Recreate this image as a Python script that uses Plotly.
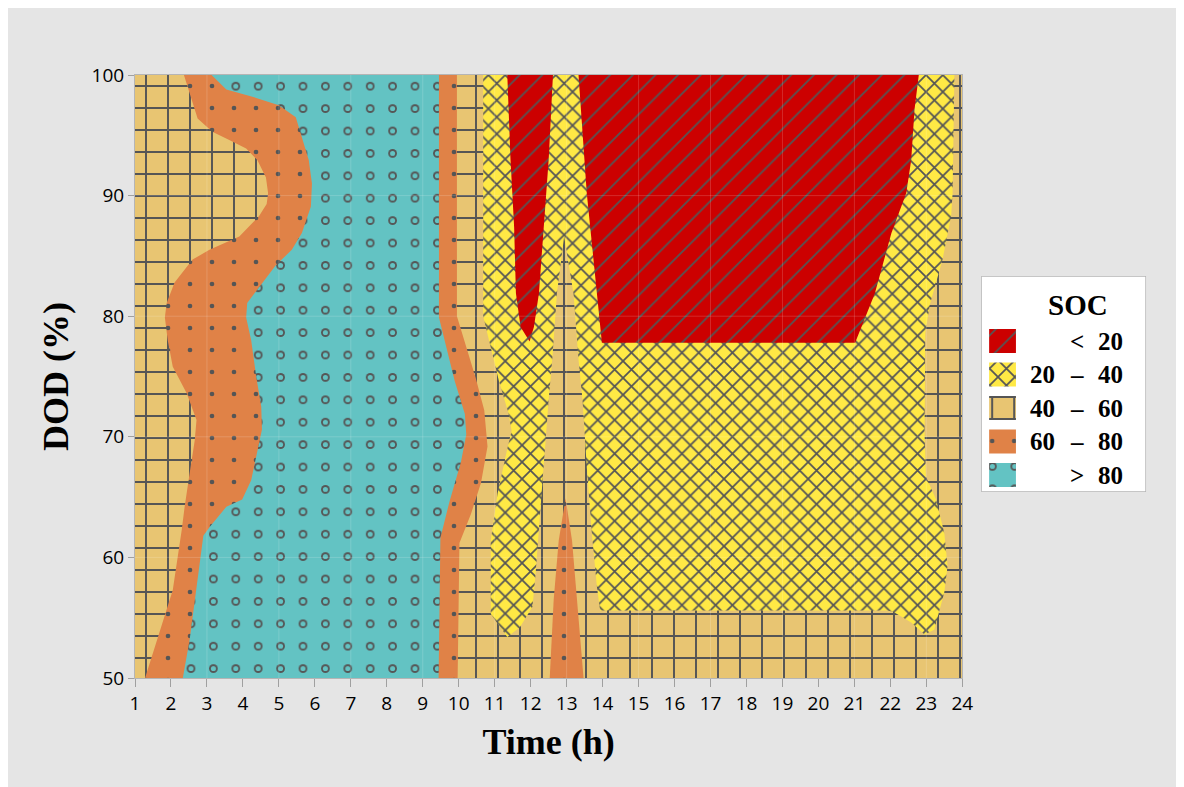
import plotly.graph_objects as go

# ---- data: contour region boundaries (Time h, DOD %) ----
x_range = [1, 24]
y_range = [50, 100]
x_ticks = list(range(1, 25))
y_ticks = [50, 60, 70, 80, 90, 100]

# 40-60 background region (whole domain)
bg_x = [1, 24, 24, 1]
bg_y = [50, 50, 100, 100]

# 60-80 region (left band + right band, teal drawn on top)
or_x = [2.36, 9.95, 9.95, 10.16, 10.47, 10.71, 10.80, 10.62, 10.34, 10.02, 9.97,
        1.28, 2.05, 2.30, 2.38, 2.52, 2.66, 2.71, 2.44, 2.05, 1.91, 1.83, 1.88, 2.10,
        2.60, 3.07, 3.90, 4.45, 4.66, 4.70, 4.64, 4.40, 4.09, 3.62, 3.15, 2.74, 2.60]
or_y = [100, 100, 80.0, 77.9, 74.9, 72.2, 69.2, 66.2, 63.6, 61.2, 50,
        50, 57.3, 62.3, 64.2, 67.0, 69.7, 71.4, 73.6, 75.8, 78.0, 79.9, 81.1, 82.8,
        84.7, 85.5, 86.6, 88.3, 89.3, 90.2, 91.5, 92.95, 93.9, 94.6, 95.3, 96.4, 97.7]

# >80 region
tl_x = [3.13, 9.45, 9.45, 9.61, 9.89, 10.17, 10.21, 10.06, 9.74, 9.49, 9.44,
        2.33, 2.52, 2.90, 3.07, 3.54, 3.98, 4.23, 4.40, 4.53, 4.51, 4.37, 4.23, 4.09,
        4.12, 4.54, 4.92, 5.36, 5.64, 5.89, 5.92, 5.83, 5.64, 5.47, 5.00, 4.37, 3.54]
tl_y = [100, 100, 79.9, 77.9, 74.6, 71.9, 70.2, 67.9, 64.6, 61.6, 50,
        50, 53.2, 61.8, 62.5, 64.2, 64.8, 66.4, 68.7, 70.6, 72.5, 75.0, 78.0, 79.9,
        81.1, 82.75, 84.25, 85.5, 86.9, 89.1, 91.0, 92.95, 94.9, 96.5, 97.5, 98.1, 98.8]

# 20-40 region
ye_x = [10.68, 23.78, 23.73, 23.69, 23.45, 23.10, 22.97, 22.95, 22.99, 23.27, 23.50,
        23.59, 23.50, 23.22, 22.95, 22.58, 22.08, 21.90, 13.93, 13.84, 13.70, 13.56,
        13.44, 13.33, 13.19, 12.93, 12.73, 12.60, 12.50, 12.40, 12.27, 12.13, 12.05,
        11.70, 11.35, 10.89, 10.89, 11.08, 11.35, 11.47, 11.38, 11.12, 10.85, 10.68]
ye_y = [100, 100, 90.2, 88.3, 84.7, 81.0, 78.6, 70.3, 66.7, 64.8, 62.0,
        59.3, 57.1, 54.0, 53.6, 54.6, 55.5, 55.6, 55.6, 57.6, 62.0, 67.5,
        73.1, 76.4, 81.9, 86.6, 81.9, 76.4, 73.1, 68.9, 63.4, 58.4, 55.9,
        54.2, 53.4, 55.3, 61.4, 65.3, 69.0, 70.5, 72.0, 74.6, 77.9, 80.0]

# <20 regions
r1_x = [11.35, 12.62, 12.50, 12.37, 12.23, 12.09, 11.97, 11.72, 11.59, 11.54, 11.44]
r1_y = [100, 100, 92.95, 87.4, 81.9, 79.1, 77.9, 79.1, 81.9, 87.4, 92.95]
r2_x = [13.33, 22.79, 22.67, 22.58, 22.44, 22.03, 21.57, 21.02, 13.98, 13.75, 13.56]
r2_y = [100, 100, 97.1, 92.95, 90.2, 86.9, 81.9, 77.8, 77.8, 84.7, 90.2]

# 60-80 spike at 13 h
sp_x = [12.53, 12.64, 12.78, 12.97, 13.15, 13.29, 13.47]
sp_y = [50, 56.5, 61.4, 64.9, 61.4, 56.5, 50]

# legend classes (top to bottom)
legend_title = "SOC"
class_lo = ["", "20", "40", "60", ""]
class_op = ["<", "\u2013", "\u2013", "\u2013", ">"]
class_hi = ["20", "40", "60", "80", "80"]

# ---- styles ----
PAT = "#555555"
TAN = "#E8C572"
YEL = "#FFE945"
RED = "#CC0000"
ORA = "#E08247"
TEA = "#63C3C3"
CLEAR = "rgba(0,0,0,0)"

STY = {
    "red": dict(color=RED, shape="/", size=16.0, solidity=0.11),
    "yel": dict(color=YEL, shape="x", size=11.9, solidity=0.27),
    "tan": dict(color=TAN, shape="+", size=22.0, solidity=0.17),
    "ora": dict(color=ORA, shape=".", size=22.0, solidity=0.036),
    "tea": dict(color=TEA, shape=".", size=22.4, solidity=0.12),
    "tea_in": dict(color=CLEAR, shape=".", size=22.4, solidity=0.04, fg=TEA),
}
legend_styles = [["red"], ["yel"], ["tan"], ["ora"], ["tea", "tea_in"]]


def region(x, y, sty, xaxis="x", yaxis="y"):
    s = STY[sty]
    return go.Scatter(
        x=list(x) + [x[0]], y=list(y) + [y[0]], mode="lines", fill="toself",
        fillcolor=s["color"], line=dict(width=0, color=s["color"]),
        fillpattern=dict(shape=s["shape"], size=s["size"], solidity=s["solidity"],
                         fgcolor=s.get("fg", PAT), bgcolor=s["color"],
                         fillmode="replace"),
        showlegend=False, hoverinfo="skip", xaxis=xaxis, yaxis=yaxis,
    )


fig = go.Figure()
fig.add_trace(region(bg_x, bg_y, "tan"))
fig.add_trace(region(or_x, or_y, "ora"))
fig.add_trace(region(tl_x, tl_y, "tea"))
fig.add_trace(region(tl_x, tl_y, "tea_in"))
fig.add_trace(region(ye_x, ye_y, "yel"))
fig.add_trace(region(r1_x, r1_y, "red"))
fig.add_trace(region(r2_x, r2_y, "red"))
fig.add_trace(region(sp_x, sp_y, "ora"))

# ---- manual legend (in its own pixel-unit axes) ----
LW, LH = 166, 216          # legend box size (px)
SW_X0, SW_X1 = 8, 35       # swatch horizontal extent
ROW0, ROWH, SWH = 65, 33.5, 24
for i, keys in enumerate(legend_styles):
    cy = ROW0 + ROWH * i
    for k in keys:
        fig.add_trace(region([SW_X0, SW_X1, SW_X1, SW_X0],
                             [cy - SWH / 2, cy - SWH / 2, cy + SWH / 2, cy + SWH / 2],
                             k, xaxis="x2", yaxis="y2"))

serif = "Liberation Serif, Times New Roman, serif"
ann = [dict(x=97, y=29, xref="x2", yref="y2", text="<b>%s</b>" % legend_title,
            showarrow=False, font=dict(family=serif, size=29, color="black"))]
for i in range(len(class_op)):
    cy = ROW0 + ROWH * i
    for txt, cx in ((class_lo[i], 62), (class_op[i], 96.5), (class_hi[i], 130.5)):
        if txt:
            ann.append(dict(x=cx, y=cy, xref="x2", yref="y2", text="<b>%s</b>" % txt,
                            showarrow=False,
                            font=dict(family=serif, size=25, color="black")))

# faint grid lines drawn above the filled regions
shapes = [dict(type="rect", xref="x2", yref="y2", x0=0, x1=LW, y0=0, y1=LH,
               fillcolor="white", line=dict(color="#B4B4B4", width=1.5),
               layer="below")]
for xv in x_ticks[::2]:
    if x_range[0] < xv < x_range[1]:
        shapes.append(dict(type="line", xref="x", yref="y", x0=xv, x1=xv,
                           y0=y_range[0], y1=y_range[1], layer="above",
                           line=dict(color="rgba(255,255,255,0.16)", width=1)))
for yv in y_ticks:
    if y_range[0] < yv < y_range[1]:
        shapes.append(dict(type="line", xref="x", yref="y", x0=x_range[0],
                           x1=x_range[1], y0=yv, y1=yv, layer="above",
                           line=dict(color="rgba(255,255,255,0.16)", width=1)))

tickfont = dict(family="Open Sans, Noto Sans, sans-serif", size=19, color="black")
titlefont = dict(family=serif, size=36, color="black")

W, H = 1168, 787
ML, MR, MT, MB = 127, 16, 67, 117
PW = W - ML - MR
PH = H - MT - MB
plot_w = 833
leg_x0 = 979
leg_y0 = 268

fig.update_layout(
    width=W, height=H, autosize=False,
    paper_bgcolor="#E5E5E5", plot_bgcolor="rgba(0,0,0,0)",
    margin=dict(l=ML, r=MR, t=MT, b=MB),
    shapes=shapes, annotations=ann, showlegend=False,
    xaxis=dict(domain=[0, plot_w / PW], range=x_range, tickvals=x_ticks,
               ticks="outside", ticklen=8, tickcolor="#A0A0A0", showgrid=False,
               zeroline=False, showline=True, linecolor="#B5B5B5", mirror=True,
               tickfont=tickfont,
               title=dict(text="<b>Time (h)</b>", font=titlefont, standoff=14)),
    yaxis=dict(domain=[0, 1], range=y_range, tickvals=y_ticks, ticks="outside",
               ticklen=6, tickcolor="#A0A0A0", showgrid=False, zeroline=False,
               showline=True, linecolor="#B5B5B5", mirror=True,
               tickfont=tickfont,
               title=dict(text="<b>DOD (%)</b>", font=titlefont, standoff=12)),
    xaxis2=dict(domain=[(leg_x0 - ML) / PW, (leg_x0 + LW - ML) / PW],
                range=[0, LW], visible=False, fixedrange=True),
    yaxis2=dict(domain=[(MT + PH - (leg_y0 + LH)) / PH, (MT + PH - leg_y0) / PH],
                range=[LH, 0], visible=False, fixedrange=True),
)

fig.write_html("out.html")
